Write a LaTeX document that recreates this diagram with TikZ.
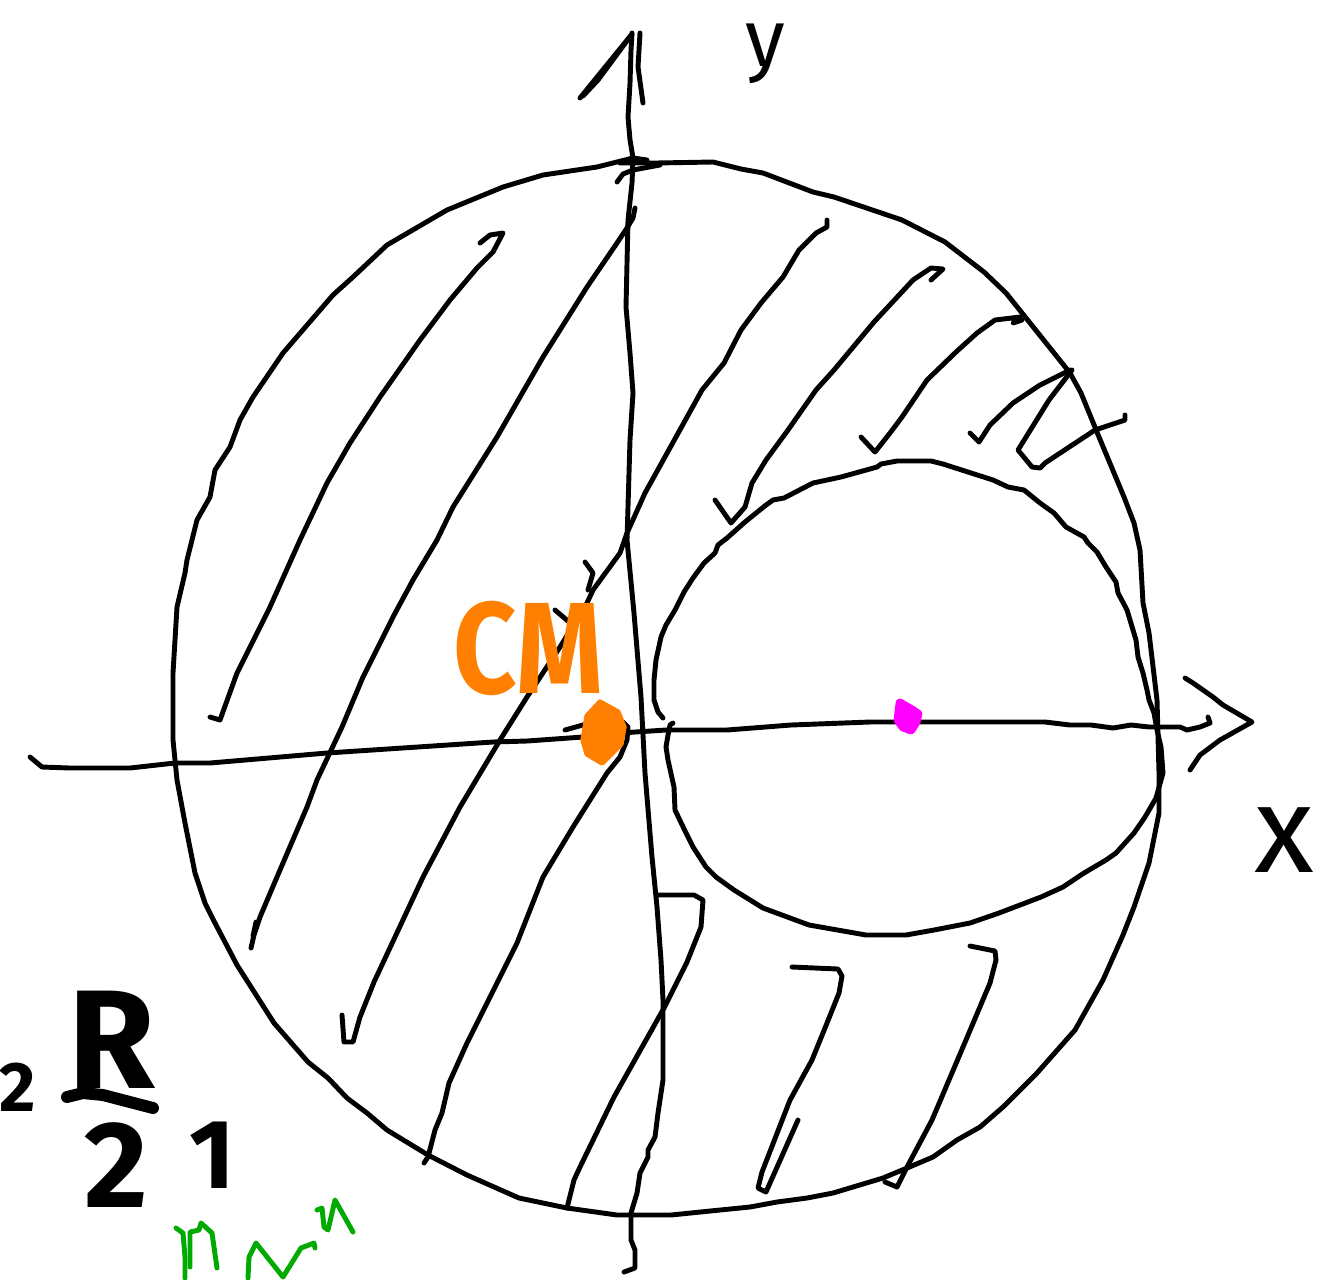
\documentclass[tikz,border=0pt]{standalone}
\usepackage{fontspec}
\newfontfamily\handfont{Fira Sans}
\definecolor{cmorange}{RGB}{255,127,0}
\definecolor{cmmagenta}{RGB}{255,0,255}
\definecolor{scribblegreen}{RGB}{0,170,0}
\begin{document}
\begin{tikzpicture}[x=0.02cm,y=-0.02cm,
  ink/.style={line width=2.8pt,line cap=round,line join=round},
  heavy/.style={line width=6.8pt,line cap=round,line join=round},
  greenink/.style={scribblegreen,line width=2.8pt,line cap=round,line join=round},
  lbl/.style={inner sep=0pt,text=black}]
\useasboundingbox (0,0) rectangle (1321,1279);

% big circle
\draw[ink] (647,160) -- (633,158) -- (597,167) -- (543,175) -- (503,187) -- (447,210) -- (387,245) -- (353,277) -- (333,295) -- (283,353) -- (253,397) -- (240,420) -- (230,447) -- (215,470) -- (210,497) -- (197,520) -- (187,560) -- (185,573) -- (177,607) -- (173,673) -- (173,740) -- (177,780) -- (185,823) -- (195,873) -- (205,903) -- (215,923) -- (237,965) -- (274,1023) -- (308,1062) -- (328,1078) -- (347,1098) -- (367,1113) -- (387,1130) -- (428,1155) -- (467,1175) -- (519,1198) -- (567,1208) -- (617,1215) -- (671,1215) -- (720,1210) -- (750,1207) -- (777,1202) -- (807,1198) -- (833,1193) -- (883,1178) -- (907,1168) -- (933,1157) -- (957,1140) -- (980,1127) -- (1003,1107) -- (1037,1073) -- (1075,1030) -- (1103,980) -- (1123,935) -- (1134,907) -- (1149,863) -- (1159,813) -- (1159,773) -- (1157,700) -- (1149,633) -- (1143,603) -- (1140,550) -- (1134,523) -- (1124,497) -- (1099,437) -- (1081,393) -- (1070,373) -- (1038,333) -- (1006,293) -- (984,272) -- (945,242) -- (902,220) -- (834,197) -- (813,192) -- (763,173) -- (741,169) -- (713,162) -- (656,163) -- (620,163);
\draw[ink] (617,182) -- (623,174) -- (633,170) -- (660,165);

% small circle
\draw[ink] (673,723) -- (670,725) -- (668,735) -- (666,747) -- (668,760) -- (674,787) -- (675,810) -- (686,833) -- (693,847) -- (706,867) -- (716,877) -- (734,890) -- (763,908) -- (809,925) -- (866,935) -- (906,935) -- (934,930) -- (970,923) -- (999,913) -- (1041,897) -- (1063,887) -- (1084,873) -- (1106,860) -- (1116,853) -- (1134,833) -- (1145,817) -- (1156,798) -- (1163,773) -- (1161,747) -- (1157,730) -- (1154,713) -- (1149,700) -- (1147,690) -- (1143,673) -- (1138,657) -- (1136,640) -- (1127,610) -- (1118,593) -- (1116,582) -- (1106,567) -- (1097,552) -- (1088,543) -- (1084,537) -- (1066,527) -- (1054,513) -- (1040,503) -- (1024,490) -- (1008,487) -- (993,480) -- (943,464) -- (931,461) -- (897,461) -- (881,464) -- (877,467) -- (841,477) -- (813,483) -- (784,498) -- (773,500) -- (766,505) -- (745,522) -- (727,538) -- (718,545) -- (715,553) -- (704,563) -- (693,578) -- (684,592) -- (675,610) -- (666,625) -- (661,637) -- (656,660) -- (654,680) -- (654,700) -- (658,712) -- (663,718);

% y axis
\draw[ink] (632,33) -- (631,50) -- (630,83) -- (628,117) -- (630,140) -- (633,158) -- (632,183) -- (628,220) -- (626,307) -- (630,353) -- (633,393) -- (630,440) -- (627,540) -- (634,613) -- (641,697) -- (645,773) -- (652,857) -- (657,907) -- (661,960) -- (663,1000) -- (663,1080) -- (658,1113) -- (655,1137) -- (648,1150) -- (648,1157) -- (640,1173) -- (637,1193) -- (631,1213) -- (631,1240) -- (635,1250) -- (635,1268) -- (624,1272);
\draw[ink] (580,98) -- (632,34) -- (598,80) -- (583,96);
\draw[ink] (640,33) -- (638,67) -- (643,103);

% x axis
\draw[ink] (30,757) -- (42,767) -- (70,768) -- (130,768) -- (175,763) -- (210,763) -- (327,753) -- (493,742) -- (527,741) -- (583,737) -- (620,733) -- (666,730) -- (727,730) -- (791,725) -- (870,722) -- (1045,722) -- (1070,725) -- (1091,725) -- (1113,728) -- (1131,725) -- (1149,727) -- (1180,727) -- (1187,730) -- (1200,727) -- (1210,723) -- (1208,717);
\draw[ink] (1185,678) -- (1193,683) -- (1213,697) -- (1223,705) -- (1252,722) -- (1220,740) -- (1200,755) -- (1190,770);

% hatching
\draw[ink] (480,243) -- (490,235) -- (503,233) -- (493,252) -- (477,268) -- (450,300) -- (420,340) -- (380,397) -- (350,443) -- (327,483) -- (300,540) -- (270,607) -- (247,653) -- (237,673) -- (220,720) -- (210,717);
\draw[ink] (635,208) -- (633,218) -- (627,228) -- (617,243) -- (587,287) -- (543,357) -- (497,437) -- (453,507) -- (437,540) -- (413,580) -- (393,617) -- (363,677) -- (342,727) -- (317,780) -- (307,807) -- (277,877) -- (260,917) -- (254,935) -- (251,948);
\draw[ink] (256,922) -- (253,936);
\draw[ink] (827,220) -- (827,227) -- (816,233) -- (799,250) -- (783,277) -- (761,303) -- (741,330) -- (724,363) -- (702,390) -- (645,493) -- (627,533) -- (620,553) -- (593,590) -- (587,603) -- (560,647) -- (527,697) -- (500,740) -- (460,807) -- (423,877) -- (374,982) -- (360,1017) -- (353,1042) -- (344,1042) -- (342,1015);
\draw[ink] (623,722) -- (628,727) -- (627,740) -- (620,757) -- (607,773) -- (573,827) -- (543,877) -- (517,943) -- (467,1043) -- (449,1083) -- (442,1113) -- (435,1130) -- (428,1157) -- (424,1163);
\draw[ink] (658,895) -- (694,895) -- (703,900) -- (701,927) -- (687,962) -- (664,1008) -- (614,1097) -- (580,1167) -- (574,1180) -- (569,1200) -- (567,1208);
\draw[ink] (792,967) -- (838,969) -- (842,976) -- (839,993) -- (827,1023) -- (812,1060) -- (790,1100) -- (762,1172) -- (758,1188) -- (766,1192) -- (798,1120);
\draw[ink] (970,946) -- (995,951) -- (996,960) -- (990,983) -- (963,1047) -- (932,1120) -- (907,1167) -- (897,1187) -- (885,1182);
\draw[ink] (931,280) -- (943,269) -- (931,268) -- (913,280) -- (874,322) -- (834,370) -- (816,390) -- (788,430) -- (766,460) -- (752,483) -- (745,507) -- (731,523) -- (715,500);
\draw[ink] (1022,320) -- (1013,323) -- (1020,317) -- (995,320) -- (977,333) -- (956,352) -- (927,380) -- (902,417) -- (890,433) -- (875,452) -- (861,437);
\draw[ink] (1070,370) -- (1040,385) -- (1013,403) -- (990,425) -- (979,442) -- (970,433);
\draw[ink] (1072,370) -- (1049,400) -- (1018,450) -- (1032,467) -- (1040,468) -- (1045,463) -- (1095,430) -- (1125,420) -- (1125,415);

% small marks
\draw[ink] (585,562) -- (593,573) -- (588,590);
\draw[ink] (555,610) -- (575,627);
\draw[ink] (565,730) -- (590,723);

% centre of mass
\filldraw[cmorange,line width=3pt,line join=round] (600,702) -- (618,712) -- (624,727) -- (621,744) -- (602,763) -- (587,754) -- (583,740) -- (587,716) -- cycle;
\node[lbl,text=cmorange,font={\handfont\bfseries\fontsize{74}{74}\selectfont},xscale=0.85] (cm) at (528,648) {CM};

% hole centre
\filldraw[cmmagenta,line width=5pt,line join=round] (900,703) -- (912,710) -- (918,714) -- (916,722) -- (911,730) -- (903,727) -- (898,720) -- cycle;

% axis labels
\node[lbl,font={\handfont\fontsize{46}{46}\selectfont}] (ylab) at (765,54) {y};
\node[lbl,font={\handfont\fontsize{70}{70}\selectfont}] (xlab) at (1284,840) {x};

% R/2 1
\node[lbl,font={\handfont\bfseries\fontsize{80}{80}\selectfont}] (rlab) at (112,1040) {R};
\draw[heavy] (67,1097) -- (83,1093) -- (103,1095) -- (153,1108);
\node[lbl,font={\handfont\bfseries\fontsize{70}{70}\selectfont}] (twolab) at (116,1165) {2};
\node[lbl,font={\handfont\bfseries\fontsize{56}{56}\selectfont}] (onelab) at (212,1155) {1};
\node[lbl,font={\handfont\bfseries\fontsize{40}{40}\selectfont}] (leftlab) at (18,1087) {2};

% green scribbles
\draw[greenink] (176,1228) -- (183,1233) -- (185,1257) -- (185,1278);
\draw[greenink] (190,1267) -- (190,1232) -- (199,1230) -- (201,1223) -- (212,1233) -- (214,1247) -- (217,1268);
\draw[greenink] (248,1278) -- (249,1257) -- (256,1243) -- (283,1277) -- (301,1248) -- (314,1243) -- (315,1248);
\draw[greenink] (317,1210) -- (322,1208) -- (324,1227) -- (328,1230) -- (335,1200) -- (353,1232);
\end{tikzpicture}
\end{document}
